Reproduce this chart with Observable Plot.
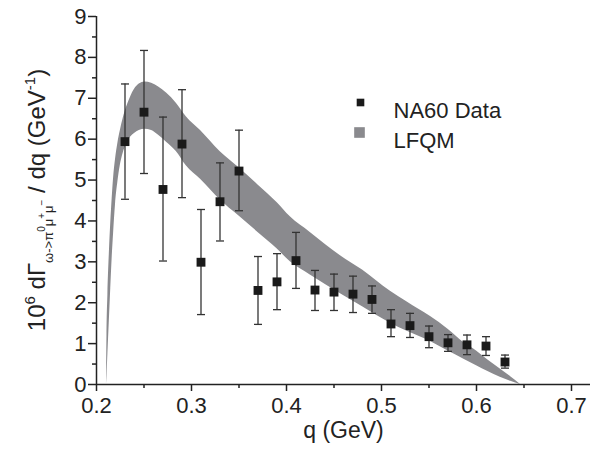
<!DOCTYPE html>
<html><head><meta charset="utf-8">
<script src="https://cdn.jsdelivr.net/npm/d3@7"></script>
<script src="https://cdn.jsdelivr.net/npm/@observablehq/plot@0.6"></script>
<style>body{margin:0;background:#fff}#chart{width:615px;height:455px}</style>
</head><body><div id="chart"></div>
<script>
// NA60 data
const qValues   = [0.23,0.25,0.27,0.29,0.31,0.33,0.35,0.37,0.39,0.41,0.43,0.45,0.47,0.49,0.51,0.53,0.55,0.57,0.59,0.61,0.63];
const rateValues= [5.94,6.66,4.77,5.88,2.99,4.47,5.22,2.30,2.51,3.03,2.31,2.26,2.21,2.08,1.48,1.44,1.17,1.02,0.97,0.94,0.55];
const errLow    = [4.53,5.16,3.02,4.57,1.71,3.51,4.25,1.47,1.83,2.35,1.81,1.81,1.76,1.74,1.17,1.15,0.90,0.81,0.73,0.71,0.40];
const errHigh   = [7.35,8.17,6.54,7.21,4.28,5.42,6.22,3.13,3.20,3.72,2.79,2.70,2.65,2.41,1.83,1.74,1.43,1.22,1.21,1.17,0.72];
// LFQM band
const bandQ     = [0.2105,0.211,0.212,0.2135,0.215,0.2165,0.218,0.220,0.2225,0.225,0.228,0.2316,0.236,0.240,0.245,0.251,0.258,0.265,0.274,0.284,0.2945,0.3095,0.330,0.350,0.370,0.390,0.404,0.425,0.4568,0.480,0.5094,0.527,0.5516,0.570,0.5867,0.600,0.612,0.625,0.636,0.6463];
const bandUpper = [0.00,1.20,2.20,3.20,3.95,4.55,5.05,5.50,5.90,6.20,6.50,6.78,7.04,7.22,7.35,7.40,7.37,7.28,7.12,6.88,6.55,6.21,5.70,5.30,4.88,4.45,4.10,3.72,3.15,2.80,2.28,2.02,1.66,1.35,1.02,0.82,0.60,0.38,0.19,0.00];
const bandLower = [0.00,0.20,0.75,1.55,2.35,3.10,3.70,4.40,4.95,5.35,5.65,5.88,6.05,6.14,6.21,6.24,6.21,6.10,5.92,5.70,5.35,5.02,4.52,4.12,3.72,3.32,3.00,2.68,2.22,1.90,1.50,1.30,1.05,0.82,0.62,0.46,0.32,0.18,0.08,0.00];
// ticks
const xMajor = [0.2,0.3,0.4,0.5,0.6,0.7];
const xMinor = [0.25,0.35,0.45,0.55,0.65];
const yMajor = [0,1,2,3,4,5,6,7,8,9];
const yMinor = [0.5,1.5,2.5,3.5,4.5,5.5,6.5,7.5,8.5];
const legendLabels = ["NA60 Data","LFQM"];

const data = qValues.map((q,i)=>({q, v:rateValues[i], lo:errLow[i], hi:errHigh[i]}));
const band = bandQ.map((q,i)=>({q, hi:bandUpper[i], lo:bandLower[i]}));
const cap = {draw(ctx,size){const h=Math.sqrt(size/Math.PI);ctx.moveTo(-h,0);ctx.lineTo(h,0);}};
const ink = "#222";
const font = "'Liberation Sans', Arial, sans-serif";

const svg = Plot.plot({
  width:615, height:455, marginLeft:96, marginRight:25, marginTop:16, marginBottom:71,
  x:{domain:[0.2,0.72]}, y:{domain:[0,9]},
  style:{fontFamily:font, fontSize:"22px", color:ink, background:"#fff"},
  marks:[
    Plot.areaY(band,{x:"q", y1:"lo", y2:"hi", fill:"#8a8a8e", curve:"monotone-x"}),
    Plot.ruleX(data,{x:"q", y1:"lo", y2:"hi", stroke:"#333", strokeWidth:1.3}),
    Plot.dot(data,{x:"q", y:"lo", symbol:cap, r:4, fill:"none", stroke:"#333", strokeWidth:1.3}),
    Plot.dot(data,{x:"q", y:"hi", symbol:cap, r:4, fill:"none", stroke:"#333", strokeWidth:1.3}),
    Plot.dot(data,{x:"q", y:"v", symbol:"square", r:5, fill:"#1a1a1a", stroke:"none"}),
    Plot.ruleY([0],{stroke:ink, strokeWidth:1.5}),
    Plot.ruleX([0.2],{y1:0, y2:9, stroke:ink, strokeWidth:1.5}),
    Plot.axisX({ticks:xMajor, tickSize:7, tickPadding:6, tickFormat:d=>d.toFixed(1), label:null, stroke:ink, strokeWidth:1.5, fill:ink, fontSize:22}),
    Plot.axisX({ticks:xMinor, tickSize:4, tickFormat:()=>"", label:null, stroke:ink, strokeWidth:1.5}),
    Plot.axisY({ticks:yMajor, tickSize:8, tickPadding:2, tickFormat:d=>String(d), label:null, stroke:ink, strokeWidth:1.5, fill:ink, fontSize:22}),
    Plot.axisY({ticks:yMinor, tickSize:4, tickFormat:()=>"", label:null, stroke:ink, strokeWidth:1.5}),
    Plot.text(["q (GeV)"],{frameAnchor:"bottom", dy:53, text:d=>d, fontSize:23, fill:ink}),
    Plot.dot([legendLabels[0]],{frameAnchor:"top-left", dx:264, dy:86, symbol:"square", r:4.3, fill:"#1a1a1a"}),
    Plot.dot([legendLabels[1]],{frameAnchor:"top-left", dx:263, dy:116, symbol:"square", r:6, fill:"#8a8a8e"}),
    Plot.text([legendLabels[0]],{frameAnchor:"top-left", dx:297, dy:86, text:d=>d, textAnchor:"start", fontSize:22, fill:ink}),
    Plot.text([legendLabels[1]],{frameAnchor:"top-left", dx:297, dy:116, text:d=>d, textAnchor:"start", fontSize:22, fill:ink})
  ]
});
document.getElementById("chart").append(svg);

// y-axis label with sub/superscripts
const t = d3.select(svg).append("text")
  .attr("transform","translate(45,200) rotate(-90)")
  .attr("text-anchor","middle")
  .attr("font-family",font)
  .attr("font-size",24).attr("fill",ink);
t.append("tspan").text("10");
t.append("tspan").attr("font-size",15).attr("dy",-10).text("6");
t.append("tspan").attr("dy",10).text(" d\u0393");
t.append("tspan").attr("font-size",13).attr("dy",8).text("\u03c9->\u03c0");
t.append("tspan").attr("font-size",10).attr("dy",-8).text("0");
t.append("tspan").attr("font-size",13).attr("dy",8).text("\u03bc");
t.append("tspan").attr("font-size",10).attr("dy",-8).text("+");
t.append("tspan").attr("font-size",13).attr("dy",8).text("\u03bc");
t.append("tspan").attr("font-size",10).attr("dy",-8).text("\u2212");
t.append("tspan").attr("dy",0).text(" / dq (GeV");
t.append("tspan").attr("font-size",15).attr("dy",-10).text("-1");
t.append("tspan").attr("dy",10).text(")");
</script></body></html>
